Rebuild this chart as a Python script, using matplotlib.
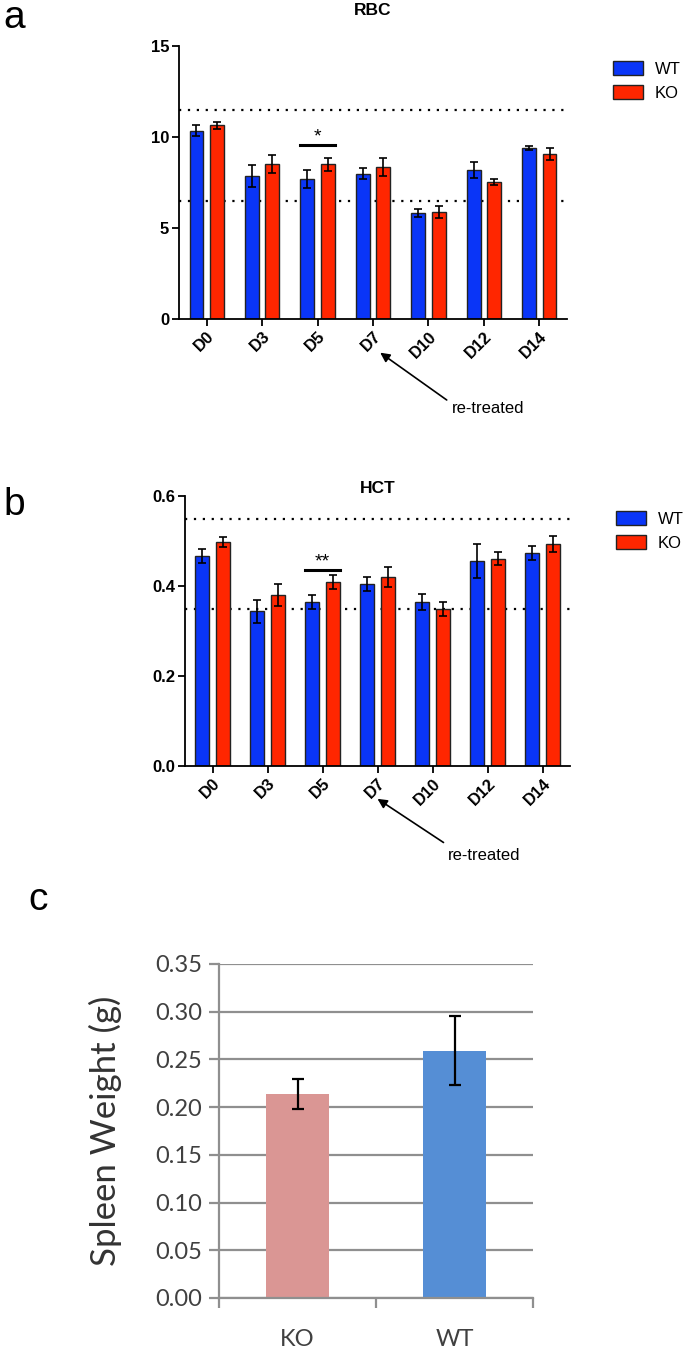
"""
Recreate RBC / HCT time course (WT vs KO) and spleen weight comparison.
"""
import numpy as np
import matplotlib; matplotlib.use('Agg')
import matplotlib.pyplot as plt

days = ['D0', 'D3', 'D5', 'D7', 'D10', 'D12', 'D14']

rbc_wt = [10.35, 7.85, 7.7, 7.97, 5.82, 8.19, 9.4]
rbc_wt_err = [0.3, 0.6, 0.5, 0.3, 0.22, 0.45, 0.12]
rbc_ko = [10.65, 8.5, 8.5, 8.37, 5.88, 7.53, 9.07]
rbc_ko_err = [0.2, 0.5, 0.37, 0.5, 0.33, 0.17, 0.32]
rbc_ref = [6.5, 11.5]

hct_wt = [0.467, 0.344, 0.364, 0.404, 0.364, 0.456, 0.474]
hct_wt_err = [0.015, 0.026, 0.016, 0.015, 0.018, 0.038, 0.016]
hct_ko = [0.498, 0.38, 0.409, 0.42, 0.349, 0.461, 0.493]
hct_ko_err = [0.011, 0.025, 0.015, 0.022, 0.016, 0.014, 0.018]
hct_ref = [0.35, 0.55]

spleen_groups = ['KO', 'WT']
spleen_mean = [0.214, 0.259]
spleen_err = [0.016, 0.036]

BLUE = '#0a35f7'
RED = '#ff2600'
ARIAL = ['Liberation Sans', 'DejaVu Sans']

W, H = 685, 1350


def ax_rect(l, t, r, b):
    return [l / W, 1 - b / H, (r - l) / W, (b - t) / H]


def time_panel(fig, rect, wt, wt_err, ko, ko_err, ref, ylim, yticks, fmt,
               title, title_pad, sig_y, sig_txt, arrow_head, arrow_tail, text_xy):
    ax = fig.add_axes(rect)
    x = np.arange(len(days))
    off, bw = 0.185, 0.25
    ekw = dict(elinewidth=1.2, capthick=1.2, ecolor='black')
    ax.bar(x - off, wt, bw, yerr=wt_err, color=BLUE, edgecolor='#222222',
           linewidth=1, capsize=2.8, error_kw=ekw, label='WT', zorder=2)
    ax.bar(x + off, ko, bw, yerr=ko_err, color=RED, edgecolor='#222222',
           linewidth=1, capsize=2.8, error_kw=ekw, label='KO', zorder=2)
    for r in ref:
        ax.axhline(r, color='black', lw=1.6, linestyle=(0, (1, 3)), zorder=1)
    ax.set_xlim(-0.5, 6.5)
    ax.set_ylim(*ylim)
    ax.set_yticks(yticks)
    ax.set_yticklabels([fmt.format(v) for v in yticks], fontsize=12,
                       fontweight='bold', family=ARIAL)
    ax.set_xticks(x)
    ax.set_xticklabels(days, rotation=45, ha='right', rotation_mode='anchor',
                       fontsize=12, fontweight='bold', family=ARIAL)
    for s in ['top', 'right']:
        ax.spines[s].set_visible(False)
    for s in ['left', 'bottom']:
        ax.spines[s].set_linewidth(1.3)
    ax.tick_params(width=1.3, length=5, pad=2)
    ax.set_title(title, fontsize=12.5, fontweight='bold', family=ARIAL,
                 pad=title_pad)

    # significance bar at D5
    ax.plot([2 - off - bw / 2, 2 + off + bw / 2], [sig_y, sig_y],
            color='black', lw=2.2, clip_on=False)
    ax.text(2, sig_y, sig_txt, ha='center', va='bottom', fontsize=14,
            family=ARIAL)

    ax.annotate('', xy=arrow_head, xytext=arrow_tail, annotation_clip=False,
                arrowprops=dict(arrowstyle='-|>', color='black', lw=1.2,
                                mutation_scale=14, shrinkA=0, shrinkB=0))
    ax.text(*text_xy, 're-treated', ha='left', va='center', fontsize=12,
            family=ARIAL, clip_on=False)

    leg = ax.legend(loc='upper left', bbox_to_anchor=(1.08, 1.0), frameon=False,
                    prop={'family': ARIAL, 'size': 12}, handlelength=1.8,
                    handleheight=0.9, labelspacing=0.5, handletextpad=0.7)
    for p in leg.get_patches():
        p.set_edgecolor('#222222')
    return ax


fig = plt.figure(figsize=(W / 100, H / 100), dpi=100)

time_panel(fig, ax_rect(179, 46, 567, 319), rbc_wt, rbc_wt_err, rbc_ko,
           rbc_ko_err, rbc_ref, (0, 15), [0, 5, 10, 15], '{:g}', 'RBC', 22,
           9.56, '*', (3.13, -1.85), (4.33, -4.45), (4.43, -4.9))

time_panel(fig, ax_rect(185, 496, 570, 766), hct_wt, hct_wt_err, hct_ko,
           hct_ko_err, hct_ref, (0, 0.6), [0.0, 0.2, 0.4, 0.6], '{:.1f}', 'HCT', 1,
           0.435, '**', (3.0, -0.073), (4.2, -0.17), (4.28, -0.198))

# panel c
GRID = '#8f8f8f'
TXT = '#404040'
axc = fig.add_axes(ax_rect(219, 964, 533, 1298))
xc = np.arange(len(spleen_groups))
axc.bar(xc, spleen_mean, 0.4, color=['#da9694', '#558ed5'], zorder=2,
        yerr=spleen_err, capsize=4,
        error_kw=dict(elinewidth=1.6, capthick=1.6, ecolor='black'))
axc.set_xlim(-0.5, 1.5)
axc.set_ylim(0, 0.35)
yt = np.arange(0, 0.351, 0.05)
axc.set_yticks(yt)
axc.set_yticklabels([f'{v:.2f}' for v in yt], fontsize=17, color=TXT,
                    family=['Lato', 'DejaVu Sans'])
axc.yaxis.grid(True, color=GRID, lw=1.6, zorder=0)
axc.set_axisbelow(True)
axc.set_xticks(xc)
axc.set_xticklabels(spleen_groups, fontsize=17, color=TXT,
                    family=['Lato', 'DejaVu Sans'])
axc.set_xticks([-0.5, 0.5, 1.5], minor=True)
axc.tick_params(axis='x', which='major', length=0, pad=22)
axc.tick_params(axis='x', which='minor', length=7, width=1.6, color=GRID)
axc.tick_params(axis='y', length=7, width=1.6, color=GRID, pad=5)
for s in ['top', 'right']:
    axc.spines[s].set_visible(False)
for s in ['left', 'bottom']:
    axc.spines[s].set_color(GRID)
    axc.spines[s].set_linewidth(1.6)
axc.set_ylabel('Spleen Weight (g)', fontsize=25, color='#333333',
               family=['Lato', 'DejaVu Sans'], labelpad=24)

# panel letters
fig.text(3 / W, 1 - 28 / H, 'a', fontsize=28, family=ARIAL)
fig.text(3 / W, 1 - 515 / H, 'b', fontsize=28, family=ARIAL)
fig.text(28 / W, 1 - 910 / H, 'c', fontsize=28, family=ARIAL)

fig.savefig('out.png', dpi=100)
